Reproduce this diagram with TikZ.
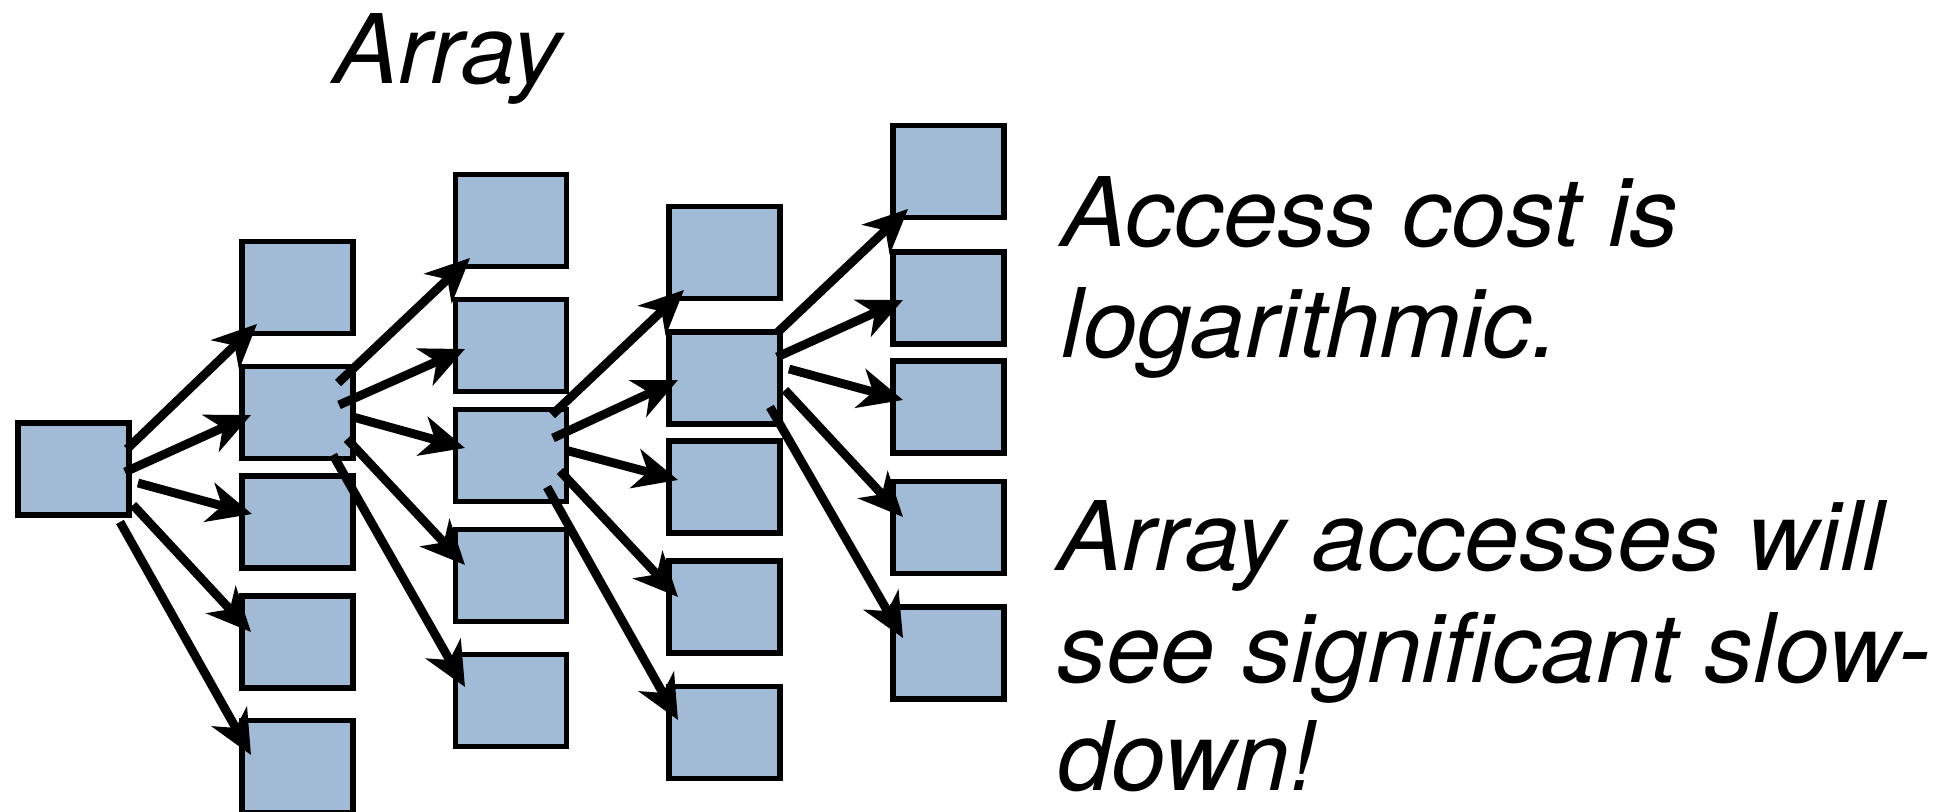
\documentclass[tikz,border=0pt]{standalone}
\usepackage{fontspec}
\setmainfont{TeX Gyre Heros}[FakeStretch=1.02]
\usetikzlibrary{arrows.meta}
\definecolor{cellblue}{HTML}{A1BBD6}
\begin{document}
\begin{tikzpicture}[x=0.5pt,y=-0.5pt,
  cell/.style={draw=black, line width=2.8pt, fill=cellblue,
    minimum width=55.4pt, minimum height=45.9pt, inner sep=0pt},
  link/.style={line width=4.4pt, -{Stealth[length=22pt,width=20pt,inset=6.5pt]}},
  txt/.style={font=\fontsize{48}{57}\selectfont\itshape, inner sep=0pt, anchor=base west}]
\useasboundingbox (0,0) rectangle (1933,812);

% root cell
\node[cell] (r) at (73.5,469) {};
% first level
\node[cell] (a1) at (297.5,287.5) {};
\node[cell] (a2) at (297.5,412.5) {};
\node[cell] (a3) at (297.5,522) {};
\node[cell] (a4) at (297.5,642) {};
\node[cell] (a5) at (297.5,766.5) {};
% second level
\node[cell] (b1) at (511,220.5) {};
\node[cell] (b2) at (511,345.5) {};
\node[cell] (b3) at (511,455.5) {};
\node[cell] (b4) at (511,575.5) {};
\node[cell] (b5) at (511,700.5) {};
% third level
\node[cell] (c1) at (724.5,252.5) {};
\node[cell] (c2) at (724.5,378) {};
\node[cell] (c3) at (724.5,487) {};
\node[cell] (c4) at (724.5,607) {};
\node[cell] (c5) at (724.5,732.5) {};
% fourth level
\node[cell] (d1) at (948.5,171.5) {};
\node[cell] (d2) at (948.5,298) {};
\node[cell] (d3) at (948.5,407) {};
\node[cell] (d4) at (948.5,527.5) {};
\node[cell] (d5) at (948.5,653) {};

% root -> first level
\draw[link] ([shift={(53.5,-20)}]r.center) -- ([shift={(-40.5,36.5)}]a1.center);
\draw[link] ([shift={(51.5,3)}]r.center)   -- ([shift={(-46.5,2.5)}]a2.center);
\draw[link] ([shift={(64.5,14)}]r.center)  -- ([shift={(-45.5,-8)}]a3.center);
\draw[link] ([shift={(59.5,36)}]r.center)  -- ([shift={(-46.5,-10)}]a4.center);
\draw[link] ([shift={(46.5,53)}]r.center)  -- ([shift={(-46.5,-11.5)}]a5.center);

% a2 -> second level
\draw[link] ([shift={(40.5,-29.5)}]a2.center) -- ([shift={(-41,37.5)}]b1.center);
\draw[link] ([shift={(41.5,-7.5)}]a2.center)  -- ([shift={(-46,3.5)}]b2.center);
\draw[link] ([shift={(55.5,4.5)}]a2.center)   -- ([shift={(-46,-7.5)}]b3.center);
\draw[link] ([shift={(49.5,26.5)}]a2.center)  -- ([shift={(-46,-10.5)}]b4.center);
\draw[link] ([shift={(35.5,42.5)}]a2.center)  -- ([shift={(-46,-13.5)}]b5.center);

% b3 -> third level
\draw[link] ([shift={(41,-40.5)}]b3.center) -- ([shift={(-40.5,37.5)}]c1.center);
\draw[link] ([shift={(42,-17.5)}]b3.center) -- ([shift={(-46.5,2)}]c2.center);
\draw[link] ([shift={(54,-5.5)}]b3.center)  -- ([shift={(-46.5,-7)}]c3.center);
\draw[link] ([shift={(49,15.5)}]b3.center)  -- ([shift={(-46.5,-10)}]c4.center);
\draw[link] ([shift={(36,31.5)}]b3.center)  -- ([shift={(-46.5,-12.5)}]c5.center);

% c2 -> fourth level
\draw[link] ([shift={(53.5,-46)}]c2.center) -- ([shift={(-40.5,37.5)}]d1.center);
\draw[link] ([shift={(52.5,-21)}]c2.center) -- ([shift={(-45.5,2)}]d2.center);
\draw[link] ([shift={(64.5,-9)}]c2.center)  -- ([shift={(-45.5,-7)}]d3.center);
\draw[link] ([shift={(60.5,12)}]c2.center)  -- ([shift={(-45.5,-10.5)}]d4.center);
\draw[link] ([shift={(45.5,29)}]c2.center)  -- ([shift={(-45.5,-15)}]d5.center);

% text
\node[txt] (title) at (333,83.3) {Array};
\node[txt] (p1a) at (1061,246.4) {Access cost is};
\node[txt] (p1b) at (1061,358) {logarithmic.};
\node[txt] (p2a) at (1057,570) {Array accesses will};
\node[txt] (p2b) at (1057,682) {see significant slow-};
\node[txt] (p2c) at (1057,790) {down!};
\end{tikzpicture}
\end{document}
